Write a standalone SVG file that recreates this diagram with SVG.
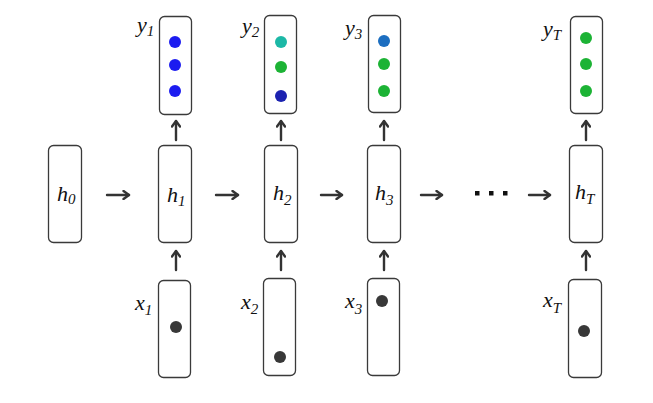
<svg xmlns="http://www.w3.org/2000/svg" width="653" height="403" viewBox="0 0 653 403">
<defs>
<marker id="head" markerUnits="userSpaceOnUse" viewBox="0 0 10 10" refX="8.5" refY="5" markerWidth="10" markerHeight="10" orient="auto">
<path d="M3,1 L8.5,5 L3,9" fill="none" stroke="#333" stroke-width="2.4" stroke-linecap="round" stroke-linejoin="round"/>
</marker>
<filter id="soft" x="-50%" y="-50%" width="200%" height="200%"><feGaussianBlur stdDeviation="0.7"/></filter>
</defs>
<rect width="653" height="403" fill="#fff"/>
<g id="connectors" stroke="#333" stroke-width="2.4" fill="none" stroke-linecap="round">
<path marker-end="url(#head)" d="M107,195 H129"/>
<path marker-end="url(#head)" d="M216,195 H238"/>
<path marker-end="url(#head)" d="M321,195 H342"/>
<path marker-end="url(#head)" d="M421,195 H442"/>
<path marker-end="url(#head)" d="M529,195 H550"/>
<path marker-end="url(#head)" d="M176,270 V251"/>
<path marker-end="url(#head)" d="M281,270 V251"/>
<path marker-end="url(#head)" d="M384,270 V251"/>
<path marker-end="url(#head)" d="M586,270 V251"/>
<path marker-end="url(#head)" d="M176,140 V121"/>
<path marker-end="url(#head)" d="M281,140 V121"/>
<path marker-end="url(#head)" d="M384,140 V121"/>
<path marker-end="url(#head)" d="M586,140 V121"/>
</g>
<g id="ellipsis" fill="#111">
<rect x="475" y="191" width="4.5" height="4.5"/>
<rect x="489" y="191" width="4.5" height="4.5"/>
<rect x="503" y="191" width="4.5" height="4.5"/>
</g>
<g id="h0"><rect fill="#fff" stroke="#3a3a3a" stroke-width="1.3" x="48.5" y="145.5" width="33" height="97" rx="5"/><text font-family="Liberation Serif" font-style="italic" font-size="22" fill="#111" x="57" y="201">h<tspan font-size="15" dy="3">0</tspan></text></g>
<g id="h1"><rect fill="#fff" stroke="#3a3a3a" stroke-width="1.3" x="158.5" y="145.5" width="33" height="97" rx="5"/><text font-family="Liberation Serif" font-style="italic" font-size="22" fill="#111" x="167" y="202">h<tspan font-size="15" dy="4">1</tspan></text></g>
<g id="h2"><rect fill="#fff" stroke="#3a3a3a" stroke-width="1.3" x="264.5" y="145.5" width="33" height="97" rx="5"/><text font-family="Liberation Serif" font-style="italic" font-size="22" fill="#111" x="273" y="200">h<tspan font-size="15" dy="5">2</tspan></text></g>
<g id="h3"><rect fill="#fff" stroke="#3a3a3a" stroke-width="1.3" x="367.5" y="145.5" width="33" height="97" rx="5"/><text font-family="Liberation Serif" font-style="italic" font-size="22" fill="#111" x="375" y="200">h<tspan font-size="15" dy="5">3</tspan></text></g>
<g id="hT"><rect fill="#fff" stroke="#3a3a3a" stroke-width="1.3" x="569.5" y="145.5" width="33" height="97" rx="5"/><text font-family="Liberation Serif" font-style="italic" font-size="22" fill="#111" x="575" y="199">h<tspan font-size="15" dy="5">T</tspan></text></g>
<g id="y1"><rect fill="#fff" stroke="#3a3a3a" stroke-width="1.3" x="159.5" y="16.5" width="32" height="98" rx="5"/><text font-family="Liberation Serif" font-style="italic" font-size="22" fill="#111" x="137" y="32">y<tspan font-size="15" dy="4">1</tspan></text>
<circle filter="url(#soft)" cx="175" cy="42" r="6" fill="#1e1ef0"/><circle filter="url(#soft)" cx="175" cy="65" r="6" fill="#1e1ef0"/><circle filter="url(#soft)" cx="175" cy="91" r="6" fill="#1e1ef0"/></g>
<g id="y2"><rect fill="#fff" stroke="#3a3a3a" stroke-width="1.3" x="264.5" y="15.5" width="32" height="98" rx="5"/><text font-family="Liberation Serif" font-style="italic" font-size="22" fill="#111" x="242" y="33">y<tspan font-size="15" dy="4">2</tspan></text>
<circle filter="url(#soft)" cx="281" cy="42" r="6" fill="#1fb8a6"/><circle filter="url(#soft)" cx="281" cy="67" r="6" fill="#1db335"/><circle filter="url(#soft)" cx="281" cy="96" r="6" fill="#1a22b0"/></g>
<g id="y3"><rect fill="#fff" stroke="#3a3a3a" stroke-width="1.3" x="368.5" y="15.5" width="32" height="97" rx="5"/><text font-family="Liberation Serif" font-style="italic" font-size="22" fill="#111" x="345" y="35">y<tspan font-size="15" dy="4">3</tspan></text>
<circle filter="url(#soft)" cx="384" cy="41" r="6" fill="#1a6ec0"/><circle filter="url(#soft)" cx="384" cy="64" r="6" fill="#1db335"/><circle filter="url(#soft)" cx="384" cy="91" r="6" fill="#1db335"/></g>
<g id="yT"><rect fill="#fff" stroke="#3a3a3a" stroke-width="1.3" x="570.5" y="16.5" width="32" height="97" rx="5"/><text font-family="Liberation Serif" font-style="italic" font-size="22" fill="#111" x="543" y="36">y<tspan font-size="15" dy="4">T</tspan></text>
<circle filter="url(#soft)" cx="586" cy="38" r="6" fill="#1db335"/><circle filter="url(#soft)" cx="586" cy="64" r="6" fill="#1db335"/><circle filter="url(#soft)" cx="586" cy="91" r="6" fill="#1db335"/></g>
<g id="x1"><rect fill="#fff" stroke="#3a3a3a" stroke-width="1.3" x="158.5" y="280.5" width="32" height="97" rx="5"/><text font-family="Liberation Serif" font-style="italic" font-size="22" fill="#111" x="135" y="310">x<tspan font-size="15" dy="5">1</tspan></text><circle filter="url(#soft)" fill="#383838" cx="176" cy="327" r="6"/></g>
<g id="x2"><rect fill="#fff" stroke="#3a3a3a" stroke-width="1.3" x="263.5" y="278.5" width="32" height="97" rx="5"/><text font-family="Liberation Serif" font-style="italic" font-size="22" fill="#111" x="241" y="309">x<tspan font-size="15" dy="5">2</tspan></text><circle filter="url(#soft)" fill="#383838" cx="280" cy="357" r="6"/></g>
<g id="x3"><rect fill="#fff" stroke="#3a3a3a" stroke-width="1.3" x="367.5" y="278.5" width="32" height="97" rx="5"/><text font-family="Liberation Serif" font-style="italic" font-size="22" fill="#111" x="345" y="308">x<tspan font-size="15" dy="6">3</tspan></text><circle filter="url(#soft)" fill="#383838" cx="382" cy="301" r="6"/></g>
<g id="xT"><rect fill="#fff" stroke="#3a3a3a" stroke-width="1.3" x="568.5" y="279.5" width="33" height="98" rx="5"/><text font-family="Liberation Serif" font-style="italic" font-size="22" fill="#111" x="543" y="307">x<tspan font-size="15" dy="6">T</tspan></text><circle filter="url(#soft)" fill="#383838" cx="584" cy="331" r="6"/></g>
</svg>
